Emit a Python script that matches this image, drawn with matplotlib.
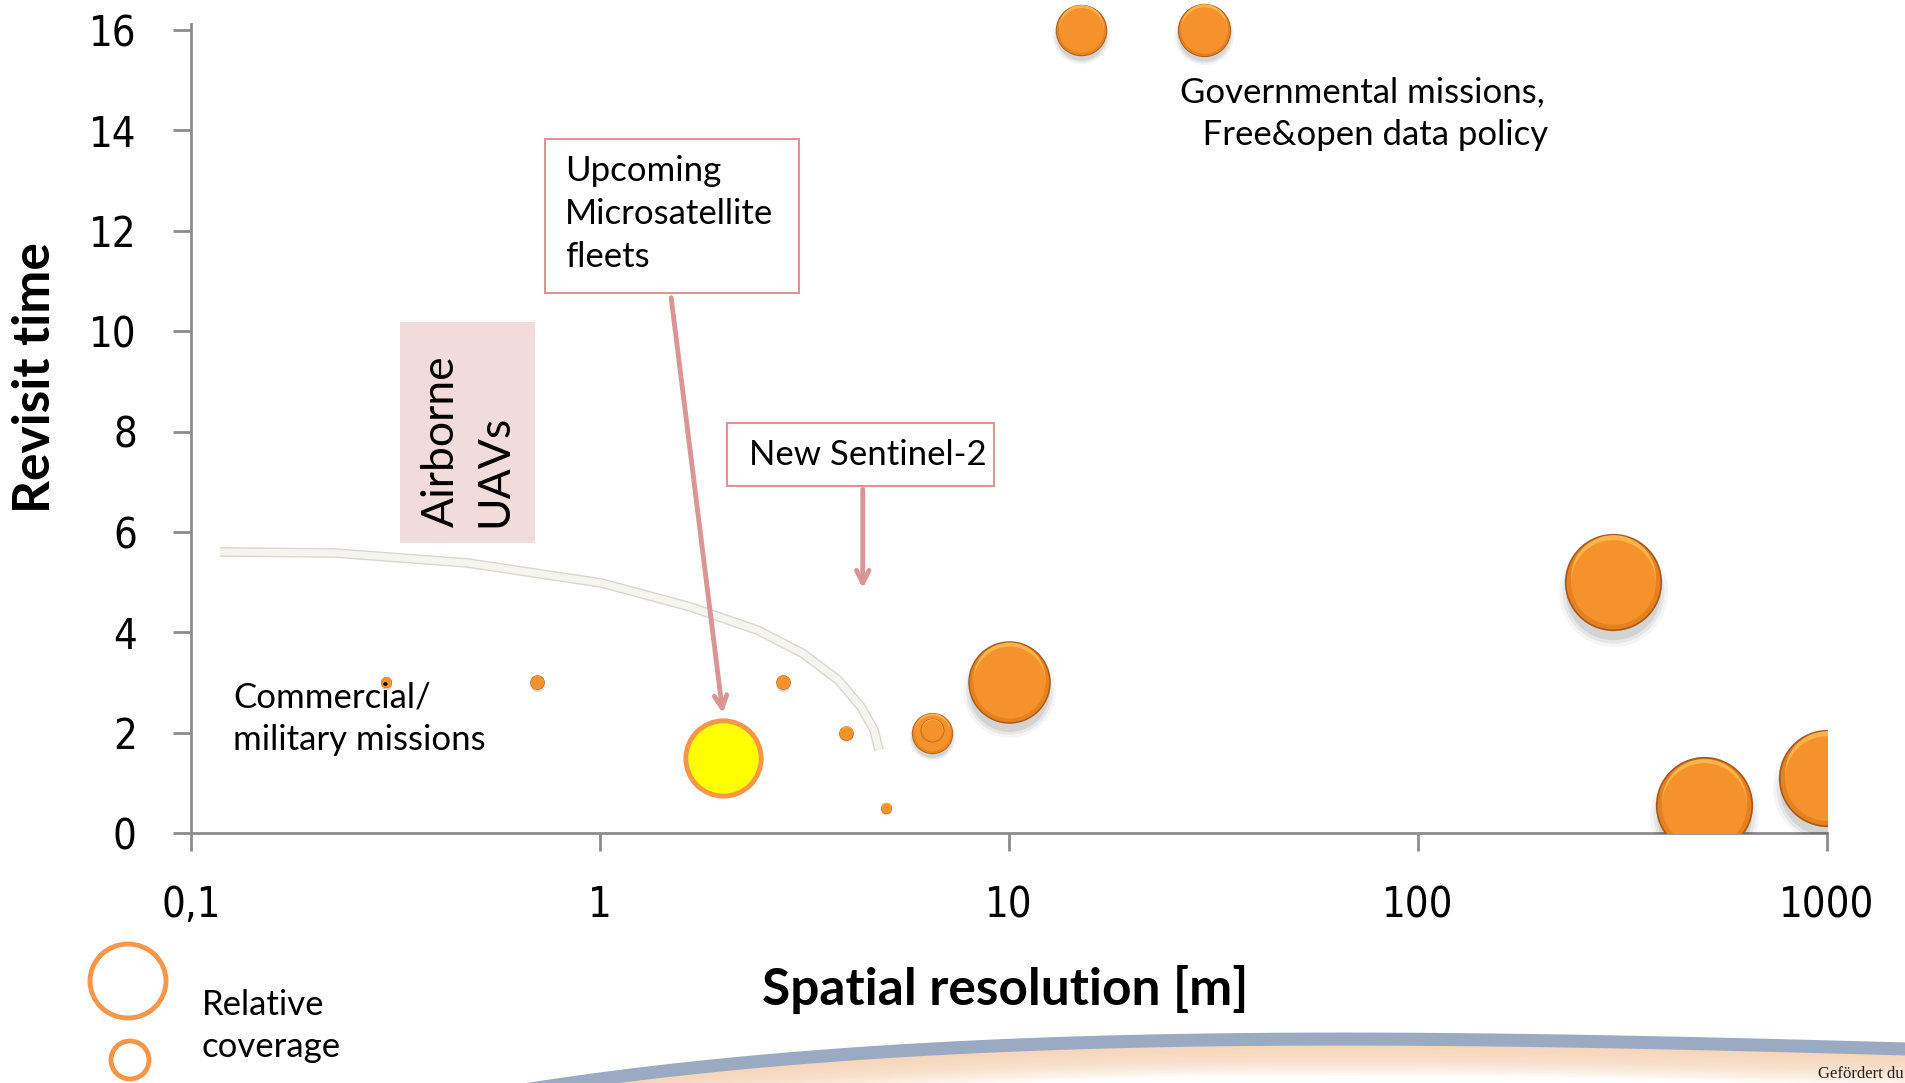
import matplotlib
matplotlib.use('Agg')
import matplotlib.pyplot as plt
import matplotlib.transforms as mtransforms
from matplotlib.patches import Ellipse, Rectangle
import numpy as np

# --- data ---
resolution = [15, 30, 300, 500, 1000, 10, 6.5, 6.5, 0.3, 0.7, 2.8, 4, 5]
revisit = [16, 16, 5, 0.55, 1.1, 3, 2, 2.05, 3, 3, 3, 2, 0.5]
coverage = [28, 30, 100, 100, 100, 72, 18, 6, 1.3, 2.2, 2.2, 2.2, 1.3]

micro_res = [2]
micro_revisit = [1.5]
micro_coverage = [60]

boundary_res = [0.1177, 0.224, 0.475, 1.01, 1.67, 2.43, 3.13, 3.82, 4.35, 4.68, 4.81]
boundary_revisit = [5.60, 5.58, 5.38, 4.98, 4.50, 4.04, 3.58, 3.05, 2.51, 2.05, 1.65]

xticks = [0.1, 1, 10, 100, 1000]
xtick_labels = ['0,1', '1', '10', '100', '1000']
yticks = [0, 2, 4, 6, 8, 10, 12, 14, 16]

pink = '#d99694'
orange_line = '#f79646'
txt_font = ['Lato', 'DejaVu Sans']

W, H = 1906, 1083
fig = plt.figure(figsize=(W / 100, H / 100), dpi=100)

# axes: 0..16 maps to px 833..30, top extended so the top bubbles are not cut
y0_px, y16_px = 833, 30
y_px_per_unit = (y0_px - y16_px) / 16
top_px = y16_px - 0.6 * y_px_per_unit
ax_h_px = y0_px - top_px
ax_w_px = 1827 - 191
ax = fig.add_axes([191 / W, (H - y0_px) / H, ax_w_px / W, ax_h_px / H])
ax.set_xscale('log')
ax.set_xlim(0.1, 1000)
ax.set_ylim(0, 16.6)
ax.patch.set_alpha(0)

for s in ['top', 'right']:
    ax.spines[s].set_visible(False)
for s in ['left', 'bottom']:
    ax.spines[s].set_color('#8c8c8c')
    ax.spines[s].set_linewidth(2)
ax.spines['left'].set_bounds(0, 16.12)

ax.set_xticks(xticks)
ax.set_xticklabels(xtick_labels)
ax.xaxis.set_minor_locator(matplotlib.ticker.NullLocator())
ax.set_yticks(yticks)
ax.tick_params(axis='both', direction='out', length=13, width=2, color='#8c8c8c')
ax.tick_params(axis='x', pad=24)
ax.tick_params(axis='y', pad=26)
for lab in ax.get_xticklabels() + ax.get_yticklabels():
    lab.set_fontsize(30)
    lab.set_fontstretch('condensed')
    lab.set_family('DejaVu Sans')

ax.set_xlabel('Spatial resolution [m]', fontsize=37, fontweight='bold', family=txt_font)
ax.set_ylabel('Revisit time', fontsize=37, fontweight='bold', family=txt_font)
ax.xaxis.set_label_coords((1005 - 191) / ax_w_px, -(990 - y0_px) / ax_h_px)
ax.xaxis.label.set_va('center')
ax.yaxis.set_label_coords((36 - 191) / ax_w_px, (y0_px - 378) / ax_h_px)
ax.yaxis.label.set_va('center')

# --- boundary curve ---
ax.plot(boundary_res, boundary_revisit, color='#d9d7d0', lw=7, solid_capstyle='butt',
        solid_joinstyle='round', zorder=2)
ax.plot(boundary_res, boundary_revisit, color='#f5f4ef', lw=5, solid_capstyle='butt',
        solid_joinstyle='round', zorder=2)

# --- 3D-ish bubbles ---
K = 49.0


def bubble(x, y, c):
    s = c * K
    r_pt = np.sqrt(s) / 2
    for k, a in [(1.12, 0.04), (1.05, 0.06), (0.98, 0.08)]:
        tr = mtransforms.offset_copy(ax.transData, fig=fig, x=0, y=-0.2 * r_pt, units='points')
        ax.scatter(x, y, s=s * k * k, color='black', alpha=a, lw=0, transform=tr, zorder=3)
    ax.scatter(x, y, s=s, color='#a85a1c', lw=0, zorder=4)
    ax.scatter(x, y, s=s * 0.93, color='#e5821f', lw=0, zorder=4)
    tr = mtransforms.offset_copy(ax.transData, fig=fig, x=0, y=0.1 * r_pt, units='points')
    ax.scatter(x, y, s=s * 0.76, color='#fbb449', lw=0, transform=tr, zorder=4)
    ax.scatter(x, y, s=s * 0.76, color='#f5922c', lw=0, zorder=4)


for x, y, c in zip(resolution, revisit, coverage):
    bubble(x, y, c)

ax.scatter(micro_res, micro_revisit, s=np.array(micro_coverage) * K, color='#ffff00',
           edgecolor=orange_line, linewidth=3.5, zorder=5)

# --- annotations ---
ax.annotate('', xy=(2.0, 2.33), xytext=(1.49, 10.72),
            arrowprops=dict(arrowstyle='->,head_length=0.9,head_width=0.45', color=pink, lw=3.5),
            zorder=6)
ax.annotate('', xy=(4.39, 4.82), xytext=(4.39, 6.9),
            arrowprops=dict(arrowstyle='->,head_length=0.9,head_width=0.45', color=pink, lw=3.5),
            zorder=6)


def px(x, y):
    return x / W, 1 - y / H


# boxes in figure pixels
fig.patches.append(Rectangle(px(545, 293), 254 / W, 154 / H, transform=fig.transFigure,
                             facecolor='white', edgecolor=pink, lw=1.5, zorder=7))
fig.patches.append(Rectangle(px(727, 486), 267 / W, 63 / H, transform=fig.transFigure,
                             facecolor='white', edgecolor=pink, lw=1.5, zorder=7))
fig.patches.append(Rectangle(px(400, 543), 135 / W, 221 / H, transform=fig.transFigure,
                             facecolor='#f2dcdb', edgecolor='none', zorder=1))

fig.text(*px(565, 214), 'Upcoming\nMicrosatellite\nfleets', fontsize=25, family=txt_font,
         ha='left', va='center', linespacing=1.42, zorder=8)
fig.text(*px(868, 455), 'New Sentinel-2', fontsize=25, family=txt_font,
         ha='center', va='center', zorder=8)
fig.text(*px(468, 527), 'Airborne\nUAVs', fontsize=32, family=txt_font,
         rotation=90, ha='center', va='bottom', multialignment='left', linespacing=1.4, zorder=8)
fig.text(*px(1362, 114), 'Governmental missions,\n   Free&open data policy', fontsize=25,
         family=txt_font, ha='center', va='center', linespacing=1.42)
fig.text(*px(233, 719), 'Commercial/\nmilitary missions', fontsize=25, family=txt_font,
         ha='left', va='center', linespacing=1.42)

# legend circles
fig.patches.append(Ellipse(px(128, 981), 76 / W, 74 / H, transform=fig.transFigure,
                           facecolor='none', edgecolor=orange_line, lw=3.5))
fig.patches.append(Ellipse(px(130, 1060), 38 / W, 38 / H, transform=fig.transFigure,
                           facecolor='none', edgecolor=orange_line, lw=3.5))
fig.text(*px(202, 1026), 'Relative\ncoverage', fontsize=25, family=txt_font,
         ha='left', va='center', linespacing=1.42)

# --- bottom swoosh ---
deco = fig.add_axes([0, 0, 1, 1], zorder=-1)
deco.set_xlim(0, W)
deco.set_ylim(H, 0)
deco.axis('off')
t = np.linspace(0, 1, 200)
p0, p1, p2, p3 = np.array([480, 1090]), np.array([900, 1018]), np.array([1400, 1028]), np.array([1906, 1042])
curve = ((1 - t) ** 3)[:, None] * p0 + (3 * (1 - t) ** 2 * t)[:, None] * p1 \
    + (3 * (1 - t) * t ** 2)[:, None] * p2 + (t ** 3)[:, None] * p3
cx, cy = curve[:, 0], curve[:, 1]
for i in range(14):
    deco.fill_between(cx, cy + 12, cy + 12 + 2.2 * (i + 1), color='#f7d3b2', alpha=0.13, lw=0)
deco.fill_between(cx, cy, cy + 13, color='#9aaac3', lw=0)
fig.text(1904 / W, 1 - 1078 / H, 'Gefördert du', fontsize=12, family='Liberation Serif',
         ha='right', va='baseline', color='#222222')

fig.savefig('out.png', dpi=100)
